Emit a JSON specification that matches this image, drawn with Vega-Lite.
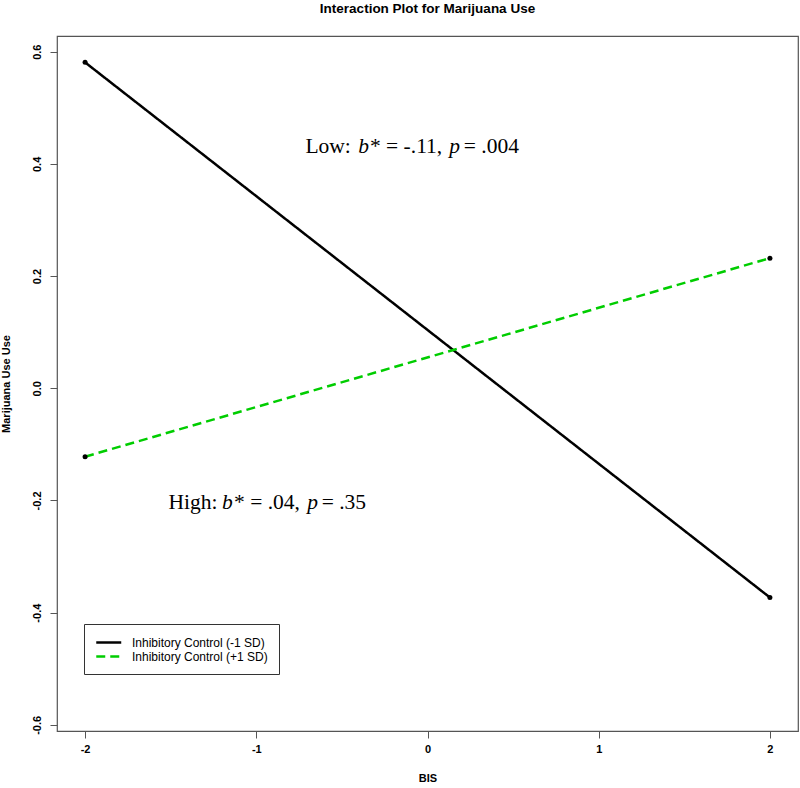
{
  "$schema": "https://vega.github.io/schema/vega-lite/v6.json",
  "autosize": {"type": "none"},
  "width": 741,
  "height": 695,
  "padding": {"left": 57, "top": 36, "right": 2, "bottom": 57},
  "background": "white",
  "title": {
    "text": "Interaction Plot for Marijuana Use",
    "anchor": "middle",
    "frame": "group",
    "offset": 21,
    "font": "Liberation Sans",
    "fontSize": 13.5,
    "fontWeight": "bold",
    "color": "black"
  },
  "config": {
    "view": {"stroke": "#555", "strokeWidth": 1.2},
    "axis": {
      "grid": false,
      "domain": false,
      "tickColor": "#555",
      "tickSize": 7,
      "labelFont": "Liberation Sans",
      "labelFontSize": 11,
      "labelFontWeight": "bold",
      "labelColor": "black",
      "titleFont": "Liberation Sans",
      "titleFontSize": 11,
      "titleFontWeight": "bold",
      "titleColor": "black"
    }
  },
  "datasets": {
    "lines": [
      {"bis": -2, "use": 0.581, "group": "Inhibitory Control (-1 SD)"},
      {"bis": 2, "use": -0.373, "group": "Inhibitory Control (-1 SD)"},
      {"bis": -2, "use": -0.122, "group": "Inhibitory Control (+1 SD)"},
      {"bis": 2, "use": 0.232, "group": "Inhibitory Control (+1 SD)"}
    ],
    "ann": [
      {"bis": -0.713, "use": 0.42, "t": "Low:", "italic": false},
      {"bis": -0.405, "use": 0.42, "t": "b", "italic": true},
      {"bis": -0.336, "use": 0.42, "t": "* = -.11,", "italic": false},
      {"bis": 0.127, "use": 0.42, "t": "p", "italic": true},
      {"bis": 0.212, "use": 0.42, "t": "= .004", "italic": false},
      {"bis": -1.513, "use": -0.215, "t": "High:", "italic": false},
      {"bis": -1.2, "use": -0.215, "t": "b", "italic": true},
      {"bis": -1.13, "use": -0.215, "t": "* = .04,", "italic": false},
      {"bis": -0.703, "use": -0.215, "t": "p", "italic": true},
      {"bis": -0.618, "use": -0.215, "t": "= .35", "italic": false}
    ]
  },
  "encoding": {
    "x": {
      "field": "bis",
      "type": "quantitative",
      "scale": {"domain": [-2.164, 2.164], "nice": false, "zero": false},
      "axis": {"title": "BIS", "values": [-2, -1, 0, 1, 2], "labelExpr": "replace(datum.label, '\u2212', '-')", "format": "d", "labelPadding": 5, "titlePadding": 18}
    },
    "y": {
      "field": "use",
      "type": "quantitative",
      "scale": {"domain": [-0.611, 0.628], "nice": false, "zero": false},
      "axis": {
        "title": "Marijuana Use Use",
        "values": [-0.6, -0.4, -0.2, 0, 0.2, 0.4, 0.6],
        "format": ".1f",
        "labelExpr": "replace(datum.label, '\u2212', '-')",
        "labelAngle": 270,
        "labelAlign": "center",
        "labelBaseline": "bottom",
        "labelPadding": 8,
        "titlePadding": 20
      }
    }
  },
  "layer": [
    {
      "data": {"name": "lines"},
      "mark": {"type": "line", "strokeWidth": 2.5},
      "encoding": {
        "color": {
          "field": "group",
          "type": "nominal",
          "scale": {"domain": ["Inhibitory Control (-1 SD)", "Inhibitory Control (+1 SD)"], "range": ["black", "#00CD00"]},
          "legend": {
            "title": null,
            "orient": "none",
            "legendX": 27,
            "legendY": 588,
            "strokeColor": "#333",
            "fillColor": "white",
            "padding": 11,
            "rowPadding": 0,
            "symbolType": "M-1,0H3",
            "symbolSize": 156,
            "symbolStrokeWidth": 2.5,
            "labelFont": "Liberation Sans",
            "labelFontSize": 12,
            "labelColor": "black",
            "labelOffset": 22,
            "labelLimit": 300
          }
        },
        "strokeDash": {
          "field": "group",
          "type": "nominal",
          "scale": {"domain": ["Inhibitory Control (-1 SD)", "Inhibitory Control (+1 SD)"], "range": [[1, 0], [9, 5]]},
          "legend": null
        }
      }
    },
    {
      "data": {"name": "lines"},
      "mark": {"type": "point", "filled": true, "color": "black", "opacity": 1, "size": 25}
    },
    {
      "data": {"name": "ann"},
      "transform": [{"filter": "!datum.italic"}],
      "mark": {"type": "text", "align": "left", "baseline": "alphabetic", "font": "Liberation Serif", "fontSize": 21.5, "color": "black"},
      "encoding": {"text": {"field": "t"}}
    },
    {
      "data": {"name": "ann"},
      "transform": [{"filter": "datum.italic"}],
      "mark": {"type": "text", "align": "left", "baseline": "alphabetic", "font": "Liberation Serif", "fontSize": 21.5, "fontStyle": "italic", "color": "black"},
      "encoding": {"text": {"field": "t"}}
    }
  ]
}
